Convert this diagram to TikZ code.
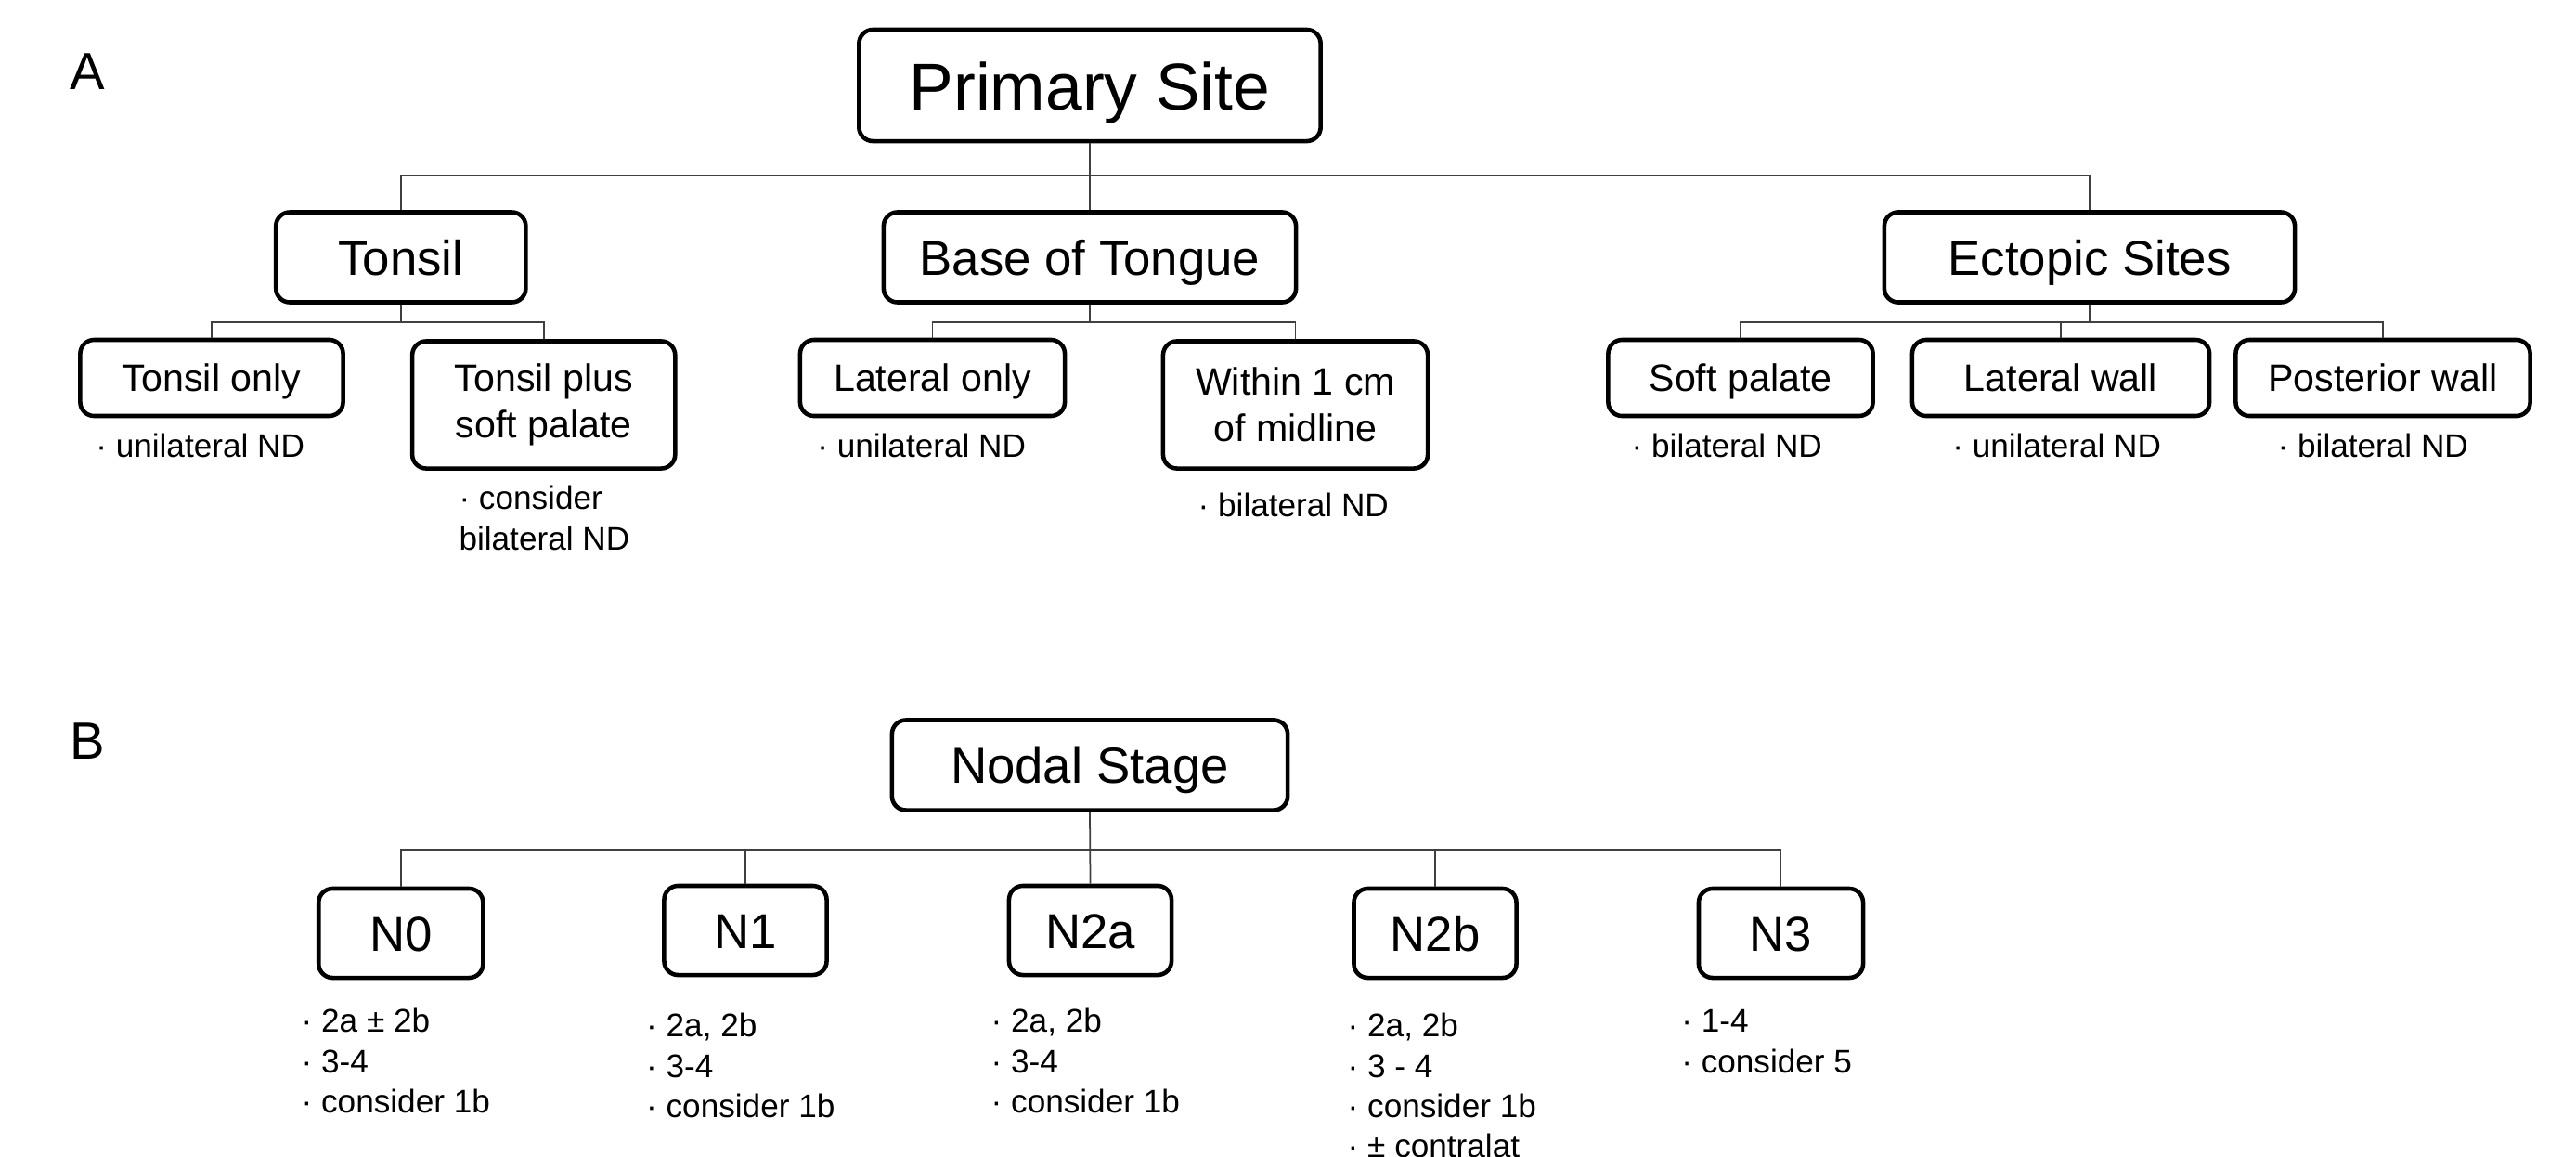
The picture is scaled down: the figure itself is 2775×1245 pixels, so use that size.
\documentclass[tikz,border=0pt]{standalone}
\usepackage{fontspec}
\setmainfont{Liberation Sans}
\begin{document}
\begin{tikzpicture}[x=0.01cm,y=-0.01cm,
  box/.style={draw, line width=1.3pt, rounded corners=0.15cm, inner sep=0pt, align=center},
  lvone/.style={box, text height=10.9pt, text depth=0pt, font=\fontsize{15}{18}\selectfont, minimum height=0.97cm},
  lvtwo/.style={box, text height=8.5pt, text depth=0pt, font=\fontsize{11.7}{14.1}\selectfont, minimum height=0.82cm},
  lvtwotall/.style={box, font=\fontsize{11.7}{14.1}\selectfont, minimum height=1.37cm},
  nbox/.style={box, text height=10.9pt, text depth=0pt, font=\fontsize{15}{18}\selectfont, minimum width=1.77cm, minimum height=0.96cm},
  conn/.style={draw=black!75, line width=0.5pt},
  note/.style={anchor=base west, inner sep=0pt, align=left, font=\fontsize{10}{12.3}\selectfont},
  panel/.style={inner sep=0pt, font=\fontsize{16}{19}\selectfont}]
\useasboundingbox (0,0) rectangle (2775,1245);

% Panel labels
\node[panel] (la) at (94.5,77) {A};
\node[panel] (lb) at (94.5,798) {B};

% Panel A
\node[box, text height=14.8pt, text depth=0pt, font=\fontsize{20.3}{24}\selectfont, minimum width=4.97cm, minimum height=1.20cm] (ps) at (1174,92) {Primary Site};
\node[lvone, minimum width=2.69cm] (ton) at (431.8,277) {Tonsil};
\node[lvone, minimum width=4.44cm] (bot) at (1174,277) {Base of Tongue};
\node[lvone, minimum width=4.42cm] (ect) at (2251,277) {Ectopic Sites};

\node[lvtwo, minimum width=2.83cm] (to) at (228,407) {Tonsil only};
\node[lvtwotall, minimum width=2.83cm] (tp) at (585.7,436) {Tonsil plus\\soft palate};
\node[lvtwo, minimum width=2.85cm] (lo) at (1004.5,407) {Lateral only};
\node[lvtwotall, minimum width=2.85cm] (wm) at (1395.5,436) {Within 1 cm\\of midline};
\node[lvtwo, minimum width=2.85cm] (sp) at (1875,407) {Soft palate};
\node[lvtwo, minimum width=3.20cm] (lw) at (2220,407) {Lateral wall};
\node[lvtwo, minimum width=3.17cm] (pw) at (2567,407) {Posterior wall};

\coordinate (jA) at (1174,189);
\coordinate (jT) at (431.8,347);
\coordinate (jBT) at (1174,347);
\coordinate (jE) at (2251,347);

\draw[conn] (ps.south) -- (bot.north);
\draw[conn] (ton.north) |- (jA) -| (ect.north);
\draw[conn] (ton.south) -- (jT);
\draw[conn] (to.north) |- (jT) -| (tp.north);
\draw[conn] (bot.south) -- (jBT);
\draw[conn] (lo.north) |- (jBT) -| (wm.north);
\draw[conn] (ect.south) -- (jE);
\draw[conn] (sp.north) |- (jE) -| (pw.north);
\draw[conn] (lw.north) -- (lw.north |- jE);

\node[note] (a1) at (102.6,492.6) {· unilateral ND};
\node[note] (a2) at (493.8,592) {· consider\\bilateral ND};
\node[note] (a3) at (879.6,492.6) {· unilateral ND};
\node[note] (a4) at (1290,556) {· bilateral ND};
\node[note] (a5) at (1757,492.6) {· bilateral ND};
\node[note] (a6) at (2102.6,492.6) {· unilateral ND};
\node[note] (a7) at (2453,492.6) {· bilateral ND};

% Panel B
\node[box, text height=11.3pt, text depth=0pt, font=\fontsize{15.5}{18}\selectfont, minimum width=4.26cm, minimum height=0.97cm] (ns) at (1174,824) {Nodal Stage};
\node[nbox] (n0) at (431.8,1005) {N0};
\node[nbox, minimum width=1.75cm] (n1) at (803,1002) {N1};
\node[nbox, minimum width=1.75cm] (n2a) at (1174.5,1002) {N2a};
\node[nbox, minimum width=1.75cm] (n2b) at (1546,1005) {N2b};
\node[nbox] (n3) at (1918.5,1005) {N3};

\coordinate (jB) at (1174,915);
\draw[conn] (ns.south) -- (n2a.north);
\draw[conn] (n0.north) |- (jB) -| (n3.north);
\draw[conn] (n1.north) -- (n1.north |- jB);
\draw[conn] (n2b.north) -- (n2b.north |- jB);

\node[note] (b0) at (324,1198.4) {· 2a ± 2b\\· 3-4\\· consider 1b};
\node[note] (b1) at (695.5,1203.4) {· 2a, 2b\\· 3-4\\· consider 1b};
\node[note] (b2) at (1067,1198.4) {· 2a, 2b\\· 3-4\\· consider 1b};
\node[note] (b3) at (1451,1246.6) {· 2a, 2b\\· 3 - 4\\· consider 1b\\· ± contralat};
\node[note] (b4) at (1810.6,1155.2) {· 1-4\\· consider 5};
\end{tikzpicture}
\end{document}
